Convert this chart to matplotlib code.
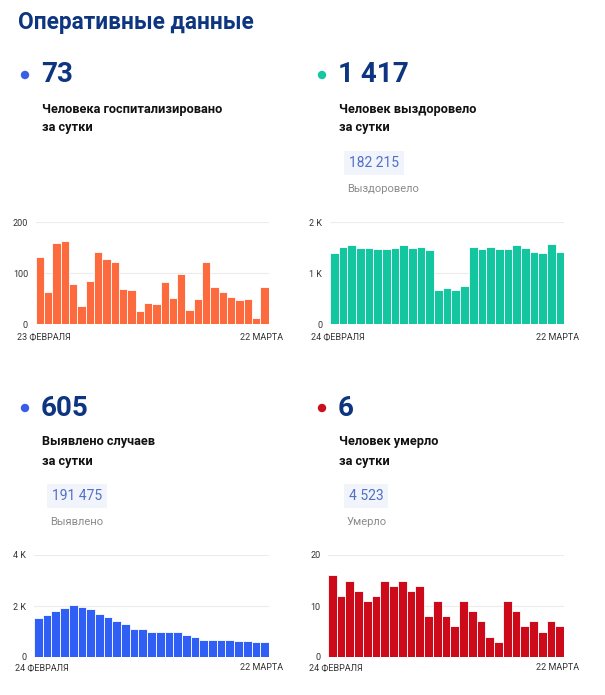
import matplotlib.pyplot as plt
from matplotlib.patches import Ellipse

plt.rcParams['font.family'] = ['Roboto', 'DejaVu Sans']

# данные
hosp = [132, 63, 158, 162, 78, 35, 85, 141, 128, 121, 68, 66, 25, 42,
        39, 83, 51, 99, 27, 49, 121, 73, 62, 52, 47, 50, 12, 73]
recovered = [1390, 1502, 1554, 1482, 1495, 1462, 1475, 1482, 1554, 1488,
             1502, 1456, 669, 702, 675, 741, 1502, 1475, 1515, 1469, 1475,
             1554, 1488, 1403, 1390, 1567, 1417]
cases = [1542, 1647, 1791, 1908, 2026, 1961, 1869, 1673, 1556, 1425, 1281,
         1085, 1085, 967, 967, 967, 967, 863, 771, 667, 667, 667, 667, 640,
         627, 601, 605]
deaths = [16, 12, 15, 13, 11, 12, 15, 14, 15, 13, 14, 8, 11, 8, 6, 11, 9,
          7, 4, 3, 11, 9, 6, 7, 5, 7, 6]

W, H = 605, 695
fig = plt.figure(figsize=(W / 100, H / 100), dpi=100)

navy = '#0d3580'


def px(x, y):
    return x / W, 1 - y / H


def txt(x, y, s, **kw):
    fig.text(*px(x, y), s, **kw)


# заголовок
txt(18, 22, 'Оперативные данные', fontsize=16.3, fontweight='bold',
    color=navy, va='center')

# блоки с цифрами
blocks = [
    (25, 75, '#3b5ee6', '73', 'Человека госпитализировано', None, None),
    (322, 75, '#18c6a0', '1 417', 'Человек выздоровело', '182 215', 'Выздоровело'),
    (25, 408, '#3b5ee6', '605', 'Выявлено случаев', '191 475', 'Выявлено'),
    (322, 408, '#c8101e', '6', 'Человек умерло', '4 523', 'Умерло'),
]
for dx, dy, col, big, sub, tot, totlab in blocks:
    fig.add_artist(Ellipse(px(dx, dy), 7 / W, 7 / H, color=col,
                           transform=fig.transFigure))
    txt(dx + 16, dy, big, fontsize=20, fontweight='bold', color=navy,
        va='center')
    txt(dx + 17, dy + 34, sub, fontsize=9.2, fontweight='bold',
        color='#111111', va='center')
    txt(dx + 17, dy + 53, 'за сутки', fontsize=9.2, fontweight='bold',
        color='#111111', va='center')
    if tot:
        fig.text(*px(dx + 27, dy + 88), tot, fontsize=10, color='#5070c8',
                 va='center',
                 bbox=dict(boxstyle='square,pad=0.35', fc='#f1f4fb',
                           ec='none'))
        txt(dx + 25, dy + 114, totlab, fontsize=8, color='#8a8a8a',
            va='center')

# графики
charts = [
    (hosp, '#fd6a3e', (35.7, 222, 268.7, 324), 200, ['0', '100', '200'],
     '23 ФЕВРАЛЯ', 17, 283, 337),
    (recovered, '#14c6a0', (330, 222, 564.3, 324), 2000, ['0', '1 K', '2 K'],
     '24 ФЕВРАЛЯ', 311, 579, 337),
    (cases, '#2f5ff4', (34, 555, 269, 657), 4000, ['0', '2 K', '4 K'],
     '24 ФЕВРАЛЯ', 15, 283, 668),
    (deaths, '#cc0a1a', (328, 555, 564, 657), 20, ['0', '10', '20'],
     '24 ФЕВРАЛЯ', 309, 579, 668),
]
for vals, col, (x0, y0, x1, y1), top, labs, start, lx, rx, ly in charts:
    ax = fig.add_axes([x0 / W, 1 - y1 / H, (x1 - x0) / W, (y1 - y0) / H])
    ax.bar(range(len(vals)), vals, width=1.0, color=col, edgecolor='white',
           linewidth=0.6, zorder=2)
    ax.set_xlim(-0.5, len(vals) - 0.5)
    ax.set_ylim(0, top)
    ax.set_yticks([0, top / 2, top])
    ax.set_yticklabels(labs)
    ax.set_xticks([])
    ax.tick_params(axis='y', length=0, pad=5.5, labelsize=6.5,
                   labelcolor='#333333')
    ax.grid(axis='y', color='#ececec', linewidth=0.8, zorder=0)
    for s in ax.spines.values():
        s.set_visible(False)
    txt(lx, ly, start, fontsize=6.5, color='#333333', va='center')
    txt(rx, ly, '22 МАРТА', fontsize=6.5, color='#333333', va='center',
        ha='right')

fig.savefig('out.png', dpi=100)
